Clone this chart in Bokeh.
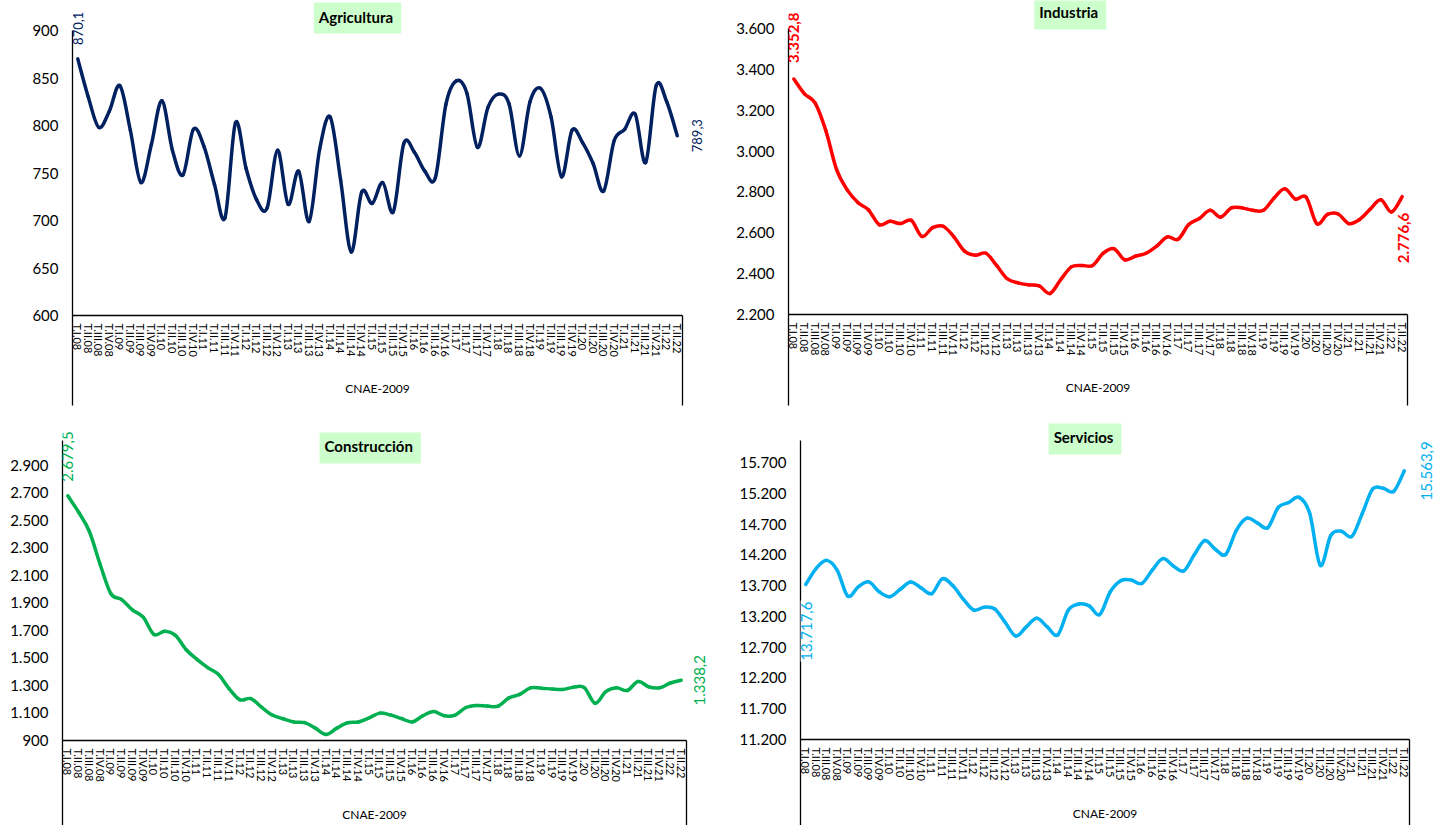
import math
from bokeh.plotting import figure
from bokeh.models import FixedTicker, Label, Range1d, ColumnDataSource, LinearAxis
from bokeh.layouts import column, row
from bokeh.embed import file_html
from bokeh.resources import INLINE

# ---------------- data ----------------
group_name = "CNAE-2009"
years = ["08", "09", "10", "11", "12", "13", "14", "15", "16", "17", "18", "19", "20", "21", "22"]
quarter_names = ["I", "II", "III", "IV"]
quarters = [f"T.{q}.{y}" for y in years for q in quarter_names][:58]  # T.I.08 ... T.II.22

agricultura = [870.1, 830, 798, 815, 842, 795, 740, 780, 826, 774, 748, 796, 778, 738, 703,
               803, 755, 722, 713, 774, 717, 752, 699, 775, 809, 742, 667, 730, 718, 740,
               709, 781, 772, 752, 745, 822, 847, 834, 777, 819, 833, 823, 768, 825, 839,
               809, 746, 795, 782, 760, 731, 784, 796, 812, 761, 842, 825, 789.3]

industria = [3352.8, 3280, 3235, 3100, 2910, 2810, 2748, 2712, 2640, 2656, 2645, 2661, 2582,
             2625, 2632, 2580, 2510, 2490, 2500, 2440, 2375, 2355, 2345, 2340, 2303, 2370,
             2433, 2440, 2440, 2500, 2522, 2468, 2485, 2500, 2535, 2580, 2568, 2640, 2670,
             2710, 2677, 2722, 2722, 2710, 2710, 2770, 2816, 2765, 2775, 2645, 2690, 2692,
             2645, 2665, 2715, 2762, 2702, 2776.6]

construccion = [2679.5, 2560, 2420, 2180, 1967, 1925, 1850, 1797, 1671, 1695, 1664, 1560,
                1490, 1430, 1380, 1276, 1196, 1205, 1142, 1085, 1058, 1035, 1030, 990, 944,
                990, 1029, 1035, 1065, 1099, 1085, 1060, 1035, 1080, 1110, 1080, 1085, 1140,
                1155, 1150, 1150, 1210, 1235, 1283, 1280, 1275, 1271, 1288, 1285, 1171, 1255,
                1283, 1264, 1329, 1290, 1283, 1318, 1338.2]

servicios = [13717.6, 13980, 14110, 13948, 13530, 13680, 13760, 13600, 13520, 13640, 13760,
             13660, 13570, 13810, 13700, 13480, 13303, 13350, 13320, 13100, 12882, 13030,
             13168, 13030, 12898, 13300, 13400, 13370, 13230, 13600, 13780, 13790, 13734,
             13950, 14138, 14020, 13939, 14200, 14433, 14290, 14207, 14595, 14795, 14720,
             14640, 14970, 15050, 15134, 14870, 14030, 14514, 14585, 14498, 14870, 15270,
             15280, 15231, 15563.9]

agri_ticks = [600, 650, 700, 750, 800, 850, 900]
ind_ticks = [2200, 2400, 2600, 2800, 3000, 3200, 3400, 3600]
cons_ticks = [900, 1100, 1300, 1500, 1700, 1900, 2100, 2300, 2500, 2700, 2900]
serv_ticks = [11200, 11700, 12200, 12700, 13200, 13700, 14200, 14700, 15200, 15700]

N = len(quarters)
xpos = [i + 0.5 for i in range(N)]          # category centres
FONT = "Lato"


def sp_int(v):
    return f"{v:,}".replace(",", ".")


def sp_dec(v):
    s = f"{v:,.1f}"
    return s.replace(",", "#").replace(".", ",").replace("#", ".")


def smooth_source(xs, ys):
    """Excel-style smoothed line: one cubic Bezier per pair of neighbouring data points."""
    d = dict(x0=[], y0=[], x1=[], y1=[], cx0=[], cy0=[], cx1=[], cy1=[])
    n = len(xs)
    for i in range(n - 1):
        pv = max(i - 1, 0)
        nx = min(i + 2, n - 1)
        d["x0"].append(xs[i]); d["y0"].append(ys[i])
        d["x1"].append(xs[i + 1]); d["y1"].append(ys[i + 1])
        d["cx0"].append(xs[i] + (xs[i + 1] - xs[pv]) / 6)
        d["cy0"].append(ys[i] + (ys[i + 1] - ys[pv]) / 6)
        d["cx1"].append(xs[i + 1] - (xs[nx] - xs[i]) / 6)
        d["cy1"].append(ys[i + 1] - (ys[nx] - ys[i]) / 6)
    return ColumnDataSource(data=d)


def make_panel(series, color, title, ticks, yr, axis_top, box_bottom, fw, cat_w, fh,
               left_border, first_spec, last_spec, title_spec, bold=False, lbl_size="14px",
               first_bg=None, cnae_standoff=18):
    y_low, y_high = yr
    y_base = ticks[0]
    x_end = N * fw / cat_w
    p = figure(x_range=Range1d(0, x_end), y_range=Range1d(y_low, y_high),
               frame_width=fw, frame_height=fh,
               min_border_left=left_border, min_border_right=0, min_border_top=0,
               min_border_bottom=0, output_backend="svg", toolbar_location=None,
               background_fill_color="white", border_fill_color="white")
    p.outline_line_color = None
    p.xgrid.visible = False
    p.ygrid.visible = False

    p.bezier(x0="x0", y0="y0", x1="x1", y1="y1", cx0="cx0", cy0="cy0", cx1="cx1", cy1="cy1",
             source=smooth_source(xpos, series), line_color=color, line_width=3.5,
             line_cap="round")

    # value axis (left), its line continuing down past the category axis
    yax = p.yaxis[0]
    yax.ticker = FixedTicker(ticks=ticks)
    yax.major_label_overrides = {t: sp_int(t) for t in ticks}
    yax.bounds = (box_bottom, axis_top)
    yax.major_tick_line_color = None
    yax.minor_tick_line_color = None
    yax.major_tick_out = 0
    yax.major_tick_in = 0
    yax.minor_tick_out = 0
    yax.minor_tick_in = 0
    yax.major_label_standoff = 14
    yax.axis_line_color = "black"
    yax.axis_line_width = 1.3
    yax.major_label_text_font = FONT
    yax.major_label_text_font_size = "15px"
    yax.major_label_text_color = "black"

    # category axis, fixed at the base value inside the frame
    xax = p.xaxis[0]
    xax.fixed_location = y_base
    xax.bounds = (0, N)
    xax.ticker = FixedTicker(ticks=xpos)
    xax.major_label_overrides = {x: q for x, q in zip(xpos, quarters)}
    xax.major_label_orientation = "vertical"
    xax.major_label_text_font = FONT
    xax.major_label_text_font_size = "11px"
    xax.major_label_text_color = "black"
    xax.major_label_standoff = 8
    xax.major_tick_line_color = None
    xax.minor_tick_line_color = None
    xax.major_tick_out = 0
    xax.major_tick_in = 0
    xax.minor_tick_out = 0
    xax.minor_tick_in = 0
    xax.axis_line_color = "black"
    xax.axis_line_width = 1.3
    xax.axis_label = group_name
    xax.axis_label_text_font = FONT
    xax.axis_label_text_font_size = "12px"
    xax.axis_label_text_font_style = "normal"
    xax.axis_label_text_color = "black"
    xax.axis_label_standoff = cnae_standoff

    # right edge of the category box
    rax = LinearAxis(fixed_location=N, bounds=(box_bottom, y_base), ticker=FixedTicker(ticks=[]),
                     axis_line_color="black", axis_line_width=1.3,
                     major_tick_line_color=None, minor_tick_line_color=None,
                     major_label_text_font_size="0px")
    p.add_layout(rax, "right")

    style = "bold" if bold else "normal"
    # data labels on first and last points
    for idx, (xo, yo, align) in ((0, first_spec), (N - 1, last_spec)):
        kw = {}
        if idx == 0 and first_bg:
            kw = dict(background_fill_color=first_bg, padding=1)
        p.add_layout(Label(x=xpos[idx], y=series[idx], x_offset=xo, y_offset=yo,
                           text=sp_dec(series[idx]), angle=math.pi / 2,
                           text_align=align, text_baseline="middle", text_color=color,
                           text_font=FONT, text_font_size=lbl_size, text_font_style=style, **kw))

    tx, ty, toff = title_spec
    p.add_layout(Label(x=tx, y=ty, y_offset=toff, text=title,
                       text_align="center", text_baseline="middle", text_font=FONT,
                       text_font_size="15px", text_font_style="bold", text_color="black",
                       background_fill_color="#ccffcc", padding=(5, 8, 5, 8)))
    return p


p1 = make_panel(agricultura, "#002060", "Agricultura", agri_ticks, (500, 931.58), 900, 505,
                652, 610, 410, 72, (0, 14, "left"), (20, 0, "center"), (27.1, 900, 12.5),
                lbl_size="13px", cnae_standoff=21)
p2 = make_panel(industria, "#ff0000", "Industria", ind_ticks, (1730.1, 3737.06), 3600, 1755,
                649, 619, 410, 64, (0, 16, "left"), (1, -16, "right"), (26.4, 3600, 14.5),
                bold=True, lbl_size="15px", cnae_standoff=21)
p3 = make_panel(construccion, "#00b050", "Construcción", cons_ticks, (281.8, 3300), 3082, 281.8,
                674, 624, 415, 62, (0, 14, "left"), (18, 0, "center"), (28.6, 2900, 17.5),
                lbl_size="15px", cnae_standoff=22)
p4 = make_panel(servicios, "#00b0f0", "Servicios", serv_ticks, (9802.9, 16544.7), 16057, 9802.9,
                641, 609, 415, 60, (1, -16, "right"), (22, 0, "center"), (27.1, 15700, 23.5),
                lbl_size="15px", first_bg="white", cnae_standoff=22)

layout = column(row(p1, p2), row(p3, p4))
open("out.html", "w").write(file_html(layout, INLINE))
